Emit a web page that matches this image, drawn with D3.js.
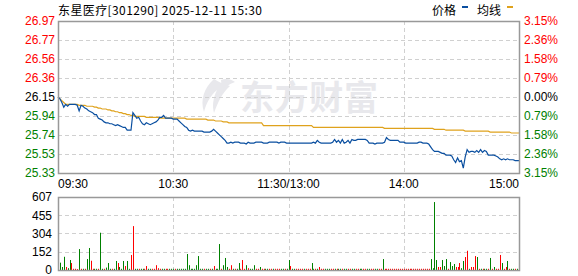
<!DOCTYPE html>
<html>
<head>
<meta charset="utf-8">
<script src="https://cdn.jsdelivr.net/npm/d3@7"></script>
<style>
  body { margin: 0; background: #fff; }
  svg { display: block; font-family: "Liberation Sans", Arial, sans-serif; }
  .cjk { font-family: "Noto Sans CJK SC", sans-serif; }
</style>
</head>
<body>
<div id="chart"></div>
<script>
const title = "东星医疗[301290] 2025-12-11 15:30";
const prevClose = 26.15;

// minute prices 09:30 .. 11:30 / 13:00 .. 15:00 (241 points)
const prices = [
  26.15, 26.13, 26.09, 26.04, 26.07, 26.05, 26.07, 26.07, 26.07, 26.07,
  26.06, 26.00, 26.06, 26.05, 26.03, 26.02, 26.00, 25.99, 25.98, 25.96,
  25.96, 25.92, 25.91, 25.90, 25.88, 25.87, 25.87, 25.86, 25.86, 25.85,
  25.84, 25.85, 25.84, 25.83, 25.82, 25.82, 25.79, 25.79, 25.79, 25.98,
  25.95, 25.92, 25.93, 25.89, 25.86, 25.85, 25.87, 25.86, 25.85, 25.86,
  25.87, 25.88, 25.90, 25.93, 25.93, 25.95, 25.92, 25.92, 25.92, 25.92,
  25.91, 25.91, 25.91, 25.89, 25.87, 25.85, 25.83, 25.82, 25.79, 25.78,
  25.79, 25.78, 25.78, 25.78, 25.78, 25.78, 25.77, 25.77, 25.77, 25.77,
  25.78, 25.80, 25.78, 25.76, 25.74, 25.72, 25.70, 25.68, 25.65, 25.65,
  25.66, 25.65, 25.66, 25.66, 25.66, 25.65, 25.65, 25.65, 25.64, 25.66,
  25.65, 25.65, 25.65, 25.66, 25.66, 25.66, 25.66, 25.65, 25.65, 25.65,
  25.66, 25.66, 25.66, 25.66, 25.66, 25.65, 25.66, 25.66, 25.66, 25.65,
  25.65, 25.65, 25.65, 25.65, 25.65, 25.65, 25.65, 25.65, 25.65, 25.65,
  25.65, 25.65, 25.65, 25.66, 25.65, 25.68, 25.66, 25.65, 25.65, 25.65,
  25.65, 25.65, 25.65, 25.66, 25.69, 25.66, 25.68, 25.65, 25.69, 25.65,
  25.66, 25.68, 25.65, 25.69, 25.68, 25.68, 25.69, 25.69, 25.69, 25.69,
  25.69, 25.68, 25.65, 25.65, 25.65, 25.64, 25.65, 25.65, 25.65, 25.65,
  25.66, 25.71, 25.69, 25.68, 25.68, 25.68, 25.68, 25.68, 25.66, 25.66,
  25.66, 25.65, 25.65, 25.65, 25.65, 25.65, 25.65, 25.65, 25.66, 25.66,
  25.65, 25.65, 25.65, 25.64, 25.61, 25.58, 25.56, 25.56, 25.56, 25.55,
  25.54, 25.54, 25.52, 25.52, 25.52, 25.51, 25.47, 25.44, 25.49, 25.45,
  25.46, 25.38, 25.50, 25.58, 25.55, 25.56, 25.56, 25.55, 25.57, 25.55,
  25.58, 25.55, 25.57, 25.56, 25.52, 25.52, 25.52, 25.52, 25.51, 25.50,
  25.48, 25.47, 25.48, 25.47, 25.48, 25.47, 25.47, 25.47, 25.46, 25.46,
  25.46
];

// average price line
const averages = [
  26.15, 26.13, 26.11, 26.09, 26.07, 26.07, 26.07, 26.07, 26.07, 26.07,
  26.07, 26.06, 26.06, 26.06, 26.06, 26.05, 26.05, 26.05, 26.05, 26.04,
  26.04, 26.03, 26.03, 26.02, 26.02, 26.02, 26.01, 26.01, 26.00, 26.00,
  25.99, 25.99, 25.98, 25.98, 25.97, 25.97, 25.96, 25.96, 25.95, 25.95,
  25.94, 25.94, 25.94, 25.94, 25.94, 25.94, 25.93, 25.93, 25.93, 25.93,
  25.93, 25.93, 25.93, 25.92, 25.92, 25.92, 25.92, 25.92, 25.92, 25.92,
  25.92, 25.92, 25.92, 25.92, 25.92, 25.92, 25.92, 25.91, 25.91, 25.91,
  25.91, 25.91, 25.91, 25.91, 25.91, 25.91, 25.91, 25.91, 25.90, 25.90,
  25.90, 25.90, 25.89, 25.89, 25.89, 25.89, 25.88, 25.88, 25.88, 25.87,
  25.87, 25.87, 25.87, 25.87, 25.87, 25.87, 25.87, 25.87, 25.87, 25.87,
  25.87, 25.87, 25.87, 25.87, 25.87, 25.87, 25.87, 25.84, 25.84, 25.84,
  25.84, 25.84, 25.84, 25.84, 25.84, 25.84, 25.84, 25.84, 25.84, 25.84,
  25.84, 25.84, 25.84, 25.84, 25.84, 25.84, 25.84, 25.84, 25.84, 25.84,
  25.84, 25.84, 25.84, 25.82, 25.82, 25.82, 25.82, 25.82, 25.82, 25.82,
  25.82, 25.82, 25.82, 25.82, 25.82, 25.82, 25.82, 25.82, 25.82, 25.82,
  25.82, 25.82, 25.82, 25.82, 25.82, 25.82, 25.82, 25.82, 25.82, 25.82,
  25.82, 25.82, 25.82, 25.82, 25.82, 25.82, 25.82, 25.82, 25.82, 25.82,
  25.81, 25.81, 25.81, 25.81, 25.81, 25.81, 25.81, 25.81, 25.81, 25.81,
  25.81, 25.81, 25.81, 25.81, 25.81, 25.81, 25.81, 25.81, 25.81, 25.81,
  25.81, 25.81, 25.81, 25.81, 25.81, 25.81, 25.80, 25.80, 25.80, 25.80,
  25.80, 25.80, 25.79, 25.79, 25.79, 25.79, 25.79, 25.79, 25.79, 25.79,
  25.79, 25.79, 25.78, 25.78, 25.78, 25.78, 25.78, 25.78, 25.78, 25.78,
  25.78, 25.78, 25.78, 25.78, 25.78, 25.77, 25.77, 25.77, 25.77, 25.77,
  25.77, 25.77, 25.77, 25.77, 25.77, 25.77, 25.76, 25.76, 25.76, 25.76,
  25.76
];

// minute volume (lots): positive = up minute (red), negative = down minute (green)
const volumes = [
  0, -61, -25, -110, 25, -15, -83, 58, 10, 10,
  8, -174, 10, -10, 10, -91, -183, 77, 10, -10,
  -10, 10, -310, -10, 10, -20, -58, -10, 10, -10,
  -75, 58, -25, -10, -75, 33, -75, -10, 125, 365,
  -10, -10, 10, -10, -10, 10, 33, -10, -10, 10,
  10, 40, 15, 10, -10, -10, 10, 10, -10, -10,
  -10, 10, -10, -10, -10, -10, -10, -133, -40, -10,
  -10, -10, -40, -116, -10, -10, 10, -10, -10, 10,
  -10, 33, -10, -10, -216, 10, -40, -100, -25, 10,
  40, -10, 10, -10, -58, 10, 83, 10, -40, 15,
  -10, -10, -40, 10, 10, -25, 10, 10, -10, -10,
  10, 10, -10, 10, 10, 10, -10, -10, 10, -10,
  -83, 33, -10, -10, 10, 10, 10, 10, -10, 10,
  10, 10, -58, -10, 10, -10, 25, 10, 10, -10,
  -10, -10, 10, 10, -10, 10, -10, -10, 10, -10,
  -10, 10, 10, -10, -10, 10, 10, -10, -10, 10,
  10, -10, -10, 10, 10, -10, -10, 10, 10, -91,
  10, 10, 10, 10, 10, 10, 10, 10, 10, 10,
  10, 10, 10, 10, 10, 10, 10, 10, 10, 10,
  10, 10, 10, 10, -91, -15, -565, -83, 25, 25,
  -83, -33, -91, 10, -66, -33, -50, 25, 25, 58,
  -15, -75, 108, 160, -10, 25, 25, 116, -108, 10,
  -10, 10, -10, -10, 10, -100, 10, -25, 10, 10,
  125, -58, 10, 25, -75, 10, -10, -10, 10, -10,
  -100
];

const pctTicks = [3.15, 2.36, 1.58, 0.79, 0, -0.79, -1.58, -2.36, -3.15];
const volumeTicks = [0, 152, 304, 455, 607];
const timeTicks = [0, 60, 120, 180, 240];
const timeLabels = ["09:30", "10:30", "11:30/13:00", "14:00", "15:00"];
const legendItems = [
  { name: "价格", color: "#0a4fa0" },
  { name: "均线", color: "#dfa21c" }
];

const width = 578;
const height = 276;
const left = 58;
const right = 519;
const priceTop = 21;
const priceBottom = 173;
const volTop = 197;
const volBottom = 270;

const red = "#ff0000";
const green = "#008000";
const gridColor = "#d0d0d0";
const frameColor = "#999";

const x = d3.scaleLinear().domain([0, 240]).range([left, right]);
const y = d3.scaleLinear()
  .domain([prevClose * (1 - 0.0315), prevClose * (1 + 0.0315)])
  .range([priceBottom, priceTop]);
const yVol = d3.scaleLinear().domain([0, 607]).range([volBottom, volTop]);

const svg = d3.select("#chart")
  .append("svg")
  .attr("width", width)
  .attr("height", height);

// watermark
const wm = svg.append("g").attr("fill", "#e8e8ec");
wm.append("path")
  .attr("d", "M214,79 C204,88 200,100 204,112 C206,104 210,96 217,90 C213,98 212,106 214,113 C218,102 222,93 230,86 C224,84 218,82 214,79 Z");
wm.append("path")
  .attr("d", "M221,80 C226,78 231,79 235,82 C229,84 225,87 222,91 Z");
wm.append("text")
  .attr("class", "cjk")
  .attr("x", 240)
  .attr("y", 110)
  .attr("font-size", 34)
  .attr("font-weight", "bold")
  .attr("textLength", 138)
  .text("东方财富");

// price grid
svg.append("g")
  .selectAll("line")
  .data(pctTicks.slice(1, -1))
  .join("line")
  .attr("x1", left)
  .attr("x2", right)
  .attr("y1", d => Math.round(y(prevClose * (1 + d / 100))) + 0.5)
  .attr("y2", d => Math.round(y(prevClose * (1 + d / 100))) + 0.5)
  .attr("stroke", gridColor)
  .attr("stroke-dasharray", "4,3");

svg.append("g")
  .selectAll("line")
  .data(timeTicks.slice(1, -1))
  .join("line")
  .attr("x1", d => Math.round(x(d)) + 0.5)
  .attr("x2", d => Math.round(x(d)) + 0.5)
  .attr("y1", priceTop)
  .attr("y2", priceBottom)
  .attr("stroke", gridColor)
  .attr("stroke-dasharray", "4,3");

// volume grid
svg.append("g")
  .selectAll("line")
  .data(volumeTicks.slice(1, -1))
  .join("line")
  .attr("x1", left)
  .attr("x2", right)
  .attr("y1", d => Math.round(yVol(d)) + 0.5)
  .attr("y2", d => Math.round(yVol(d)) + 0.5)
  .attr("stroke", gridColor)
  .attr("stroke-dasharray", "4,3");

svg.append("g")
  .selectAll("line")
  .data(timeTicks.slice(1, -1))
  .join("line")
  .attr("x1", d => Math.round(x(d)) + 0.5)
  .attr("x2", d => Math.round(x(d)) + 0.5)
  .attr("y1", volTop)
  .attr("y2", volBottom)
  .attr("stroke", gridColor)
  .attr("stroke-dasharray", "4,3");

// volume bars
svg.append("g")
  .selectAll("rect")
  .data(volumes)
  .join("rect")
  .attr("x", (d, i) => Math.round(x(i)))
  .attr("y", d => yVol(Math.abs(d)))
  .attr("width", 1)
  .attr("height", d => yVol(0) - yVol(Math.abs(d)))
  .attr("fill", d => d >= 0 ? red : green);

// lines
const line = d3.line()
  .x((d, i) => x(i))
  .y(d => y(d));

svg.append("path")
  .datum(averages)
  .attr("d", line)
  .attr("fill", "none")
  .attr("stroke", legendItems[1].color)
  .attr("stroke-width", 1.2);

svg.append("path")
  .datum(prices)
  .attr("d", line)
  .attr("fill", "none")
  .attr("stroke", legendItems[0].color)
  .attr("stroke-width", 1.2);

// frames
[[priceTop, priceBottom], [volTop, volBottom]].forEach(([t, b]) => {
  svg.append("rect")
    .attr("x", left + 0.5)
    .attr("y", t + 0.5)
    .attr("width", right - left)
    .attr("height", b - t)
    .attr("fill", "none")
    .attr("stroke", frameColor)
    .attr("stroke-width", 1.5);
});

const pctColor = d => d > 0 ? red : d < 0 ? green : "#000";

// left price axis
svg.append("g")
  .attr("transform", `translate(${left - 3}, 0)`)
  .call(d3.axisLeft(y)
    .tickValues(pctTicks.map(p => prevClose * (1 + p / 100)))
    .tickFormat(d => d.toFixed(2))
    .tickSize(0)
    .tickPadding(0))
  .call(g => g.select(".domain").remove())
  .selectAll("text")
  .attr("font-size", 12)
  .attr("font-family", "Liberation Sans, Arial, sans-serif")
  .attr("fill", (d, i) => pctColor(pctTicks[i]));

// right percent axis
const yPct = d3.scaleLinear().domain([-3.15, 3.15]).range([priceBottom, priceTop]);
svg.append("g")
  .attr("transform", `translate(${right + 5}, 0)`)
  .call(d3.axisRight(yPct)
    .tickValues(pctTicks)
    .tickFormat(d => Math.abs(d).toFixed(2) + "%")
    .tickSize(0)
    .tickPadding(0))
  .call(g => g.select(".domain").remove())
  .selectAll("text")
  .attr("font-size", 12)
  .attr("font-family", "Liberation Sans, Arial, sans-serif")
  .attr("fill", d => pctColor(d));

// volume axis
svg.append("g")
  .attr("transform", `translate(${left - 6}, 0)`)
  .call(d3.axisLeft(yVol)
    .tickValues(volumeTicks)
    .tickSize(0)
    .tickPadding(0))
  .call(g => g.select(".domain").remove())
  .selectAll("text")
  .attr("font-size", 12)
  .attr("font-family", "Liberation Sans, Arial, sans-serif")
  .attr("fill", "#000");

// time labels
svg.append("g")
  .selectAll("text")
  .data(timeTicks)
  .join("text")
  .attr("x", d => x(d))
  .attr("y", 188)
  .attr("font-size", 12)
  .attr("text-anchor", (d, i) => i === 0 ? "start" : i === timeTicks.length - 1 ? "end" : "middle")
  .text((d, i) => timeLabels[i]);

// title
svg.append("text")
  .attr("class", "cjk")
  .attr("x", left)
  .attr("y", 15)
  .attr("font-size", 12)
  .attr("textLength", 204)
  .text(title);

// legend
const legend = svg.append("g");
legendItems.forEach((item, i) => {
  const lx = 432 + i * 45;
  legend.append("text")
    .attr("class", "cjk")
    .attr("x", lx)
    .attr("y", 15)
    .attr("font-size", 12)
    .text(item.name);
  legend.append("rect")
    .attr("x", lx + 30)
    .attr("y", 6)
    .attr("width", 6)
    .attr("height", 2)
    .attr("fill", item.color);
});
</script>
</body>
</html>
